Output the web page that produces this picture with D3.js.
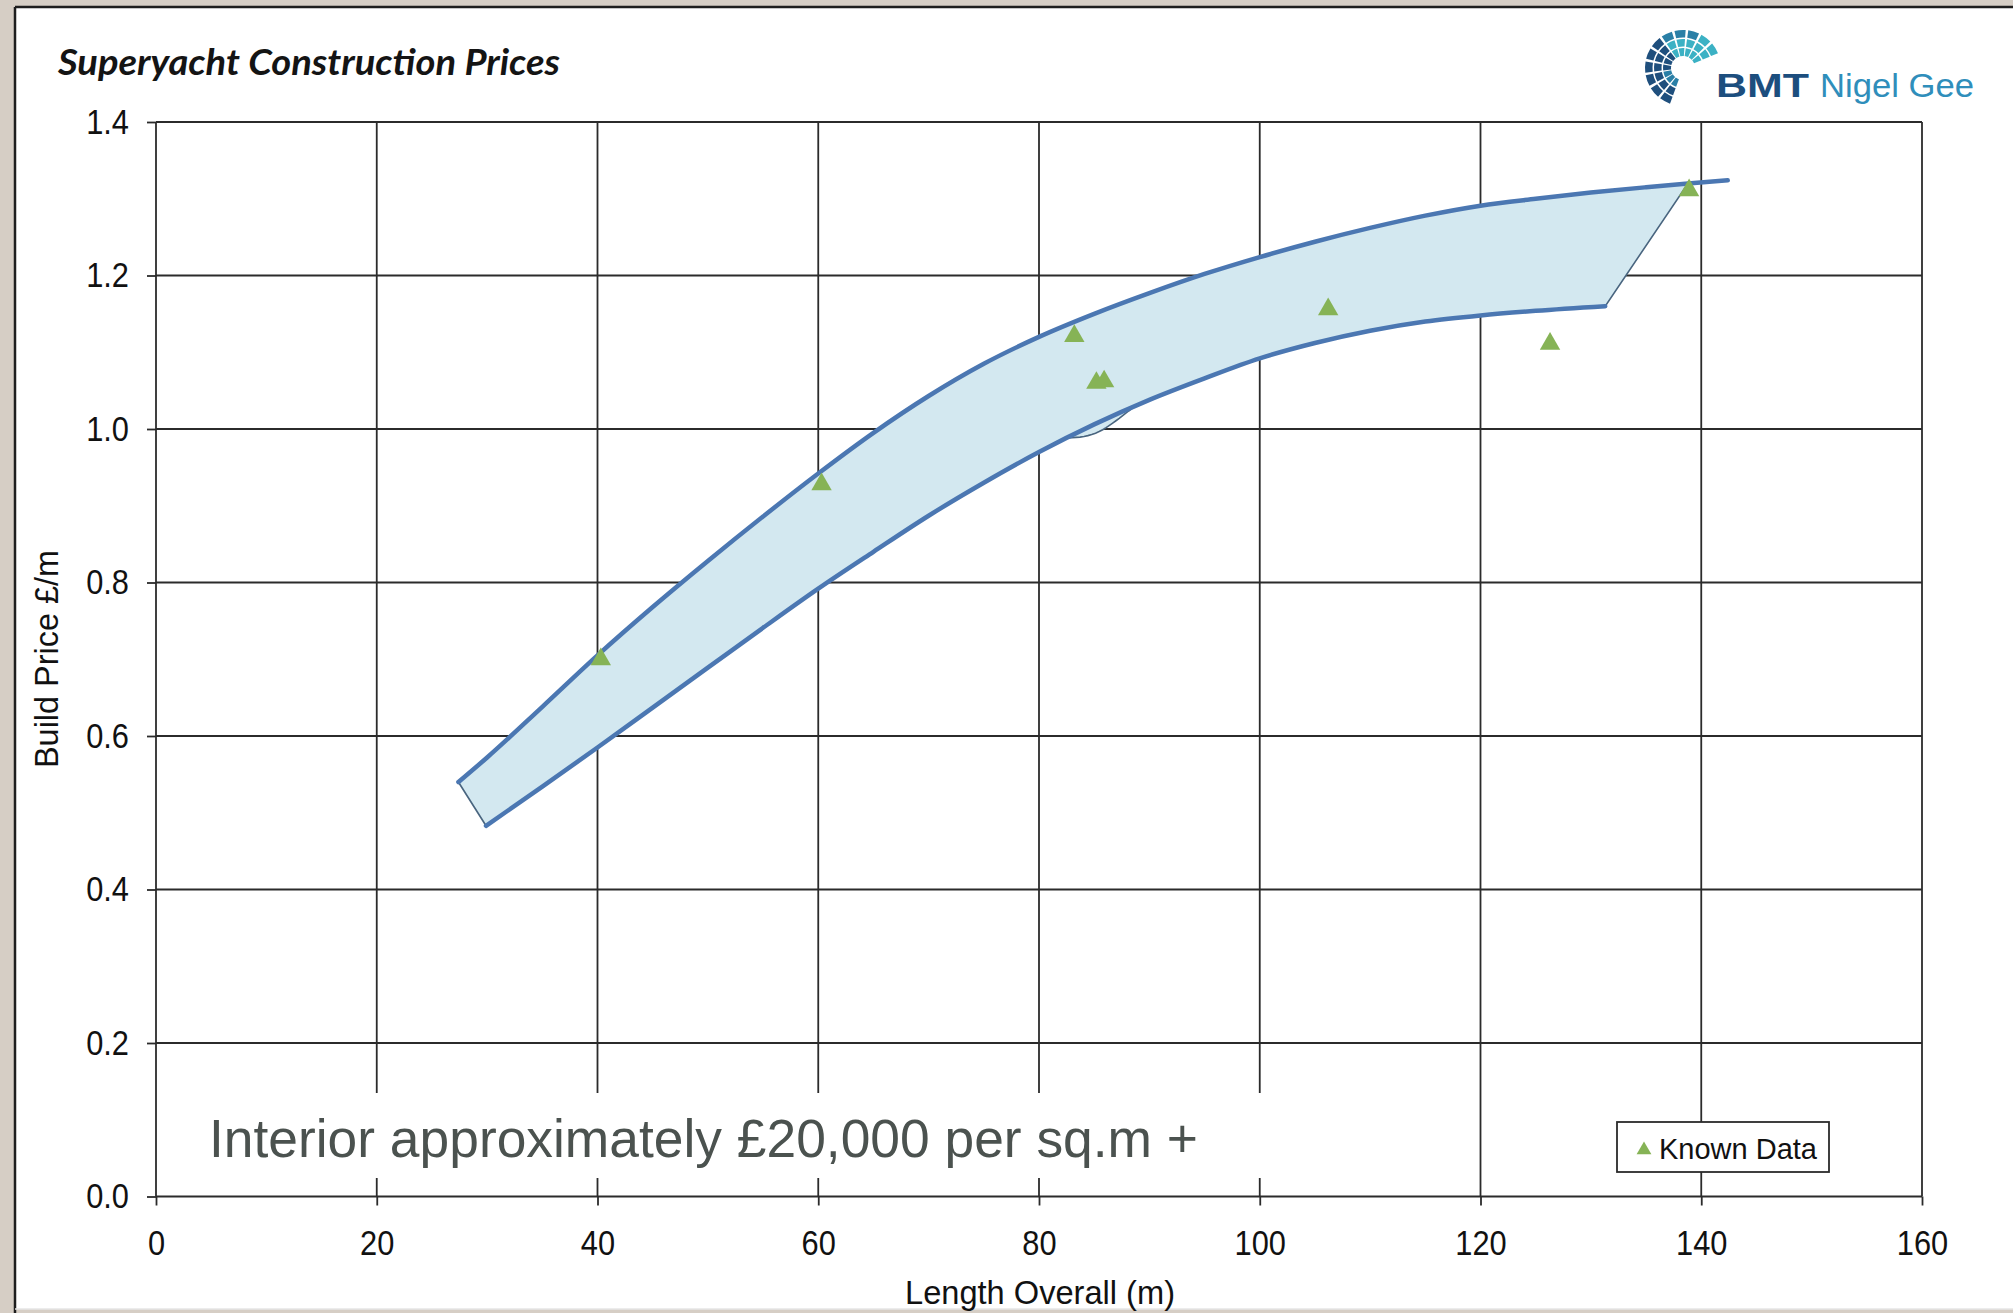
<!DOCTYPE html>
<html>
<head>
<meta charset="utf-8">
<script src="https://cdn.jsdelivr.net/npm/d3@7"></script>
<style>
  html, body { margin: 0; padding: 0; background: #d6cec5; }
  svg { display: block; }
</style>
</head>
<body>
<svg id="chart" width="2013" height="1313"></svg>
<script>
// Upper bound of the price band (length in m, price in £/m)
const upperLength = [27.4, 30, 35, 40, 45, 50, 55, 60, 65, 70, 75, 80, 85, 90, 95, 100, 105, 110, 115, 120, 125, 130, 135, 138.8, 142.4];
const upperPrice  = [0.540, 0.572, 0.638, 0.705, 0.768, 0.828, 0.886, 0.942, 0.995, 1.043, 1.085, 1.120, 1.150, 1.177, 1.202, 1.224, 1.244, 1.262, 1.278, 1.291, 1.300, 1.308, 1.315, 1.320, 1.324];

// Lower bound of the price band
const lowerLength = [29.9, 35, 40, 45, 50, 55, 60, 65, 70, 75, 80, 85, 90, 95, 100, 105, 110, 115, 120, 125, 131.3];
const lowerPrice  = [0.483, 0.534, 0.585, 0.637, 0.689, 0.741, 0.792, 0.840, 0.887, 0.930, 0.970, 1.006, 1.038, 1.066, 1.092, 1.112, 1.128, 1.140, 1.148, 1.154, 1.160];

// Where the shaded area's outline dips under the lower bound
const dipLength = [82.5, 84, 85.5, 87, 89];
const dipPrice  = [0.988, 0.990, 0.997, 1.011, 1.032];

// Known yachts
const knownLength = [40.3, 60.3, 83.2, 85.2, 85.9, 106.2, 126.3, 138.9];
const knownPrice  = [0.700, 0.928, 1.121, 1.060, 1.062, 1.156, 1.111, 1.311];

// Axis ticks
const xTicks = [0, 20, 40, 60, 80, 100, 120, 140, 160];
const yTicks = [0.0, 0.2, 0.4, 0.6, 0.8, 1.0, 1.2, 1.4];

const svg = d3.select("#chart");
const x = d3.scaleLinear().domain([0, 160]).range([156, 1922]);
const y = d3.scaleLinear().domain([0, 1.4]).range([1196.5, 122]);

const FONT = "'Liberation Sans', Arial, sans-serif";
const gridColor = "#2b2b2b";

// Slide panel
svg.append("rect").attr("x", 15).attr("y", 7).attr("width", 2010).attr("height", 1302).attr("fill", "#ffffff");
svg.append("line").attr("x1", 15).attr("x2", 15).attr("y1", 7).attr("y2", 1313).attr("stroke", "#1e1e1e").attr("stroke-width", 2.5);
svg.append("line").attr("x1", 15).attr("x2", 2013).attr("y1", 7).attr("y2", 7).attr("stroke", "#1e1e1e").attr("stroke-width", 2.5);
svg.append("line").attr("x1", 15).attr("x2", 2013).attr("y1", 1309).attr("y2", 1309).attr("stroke", "#e6e6e6").attr("stroke-width", 1.5);

// Gridlines
const grid = svg.append("g");
grid.selectAll(".vg").data(xTicks).join("line")
  .attr("x1", d => x(d)).attr("x2", d => x(d))
  .attr("y1", y(1.4)).attr("y2", y(0))
  .attr("stroke", gridColor).attr("stroke-width", 1.8);
grid.selectAll(".hg").data(yTicks).join("line")
  .attr("x1", x(0)).attr("x2", x(160))
  .attr("y1", d => y(d)).attr("y2", d => y(d))
  .attr("stroke", gridColor).attr("stroke-width", 1.8);

// Compress tick text slightly horizontally
function squeeze(sel, f) {
  sel.each(function () {
    const w = this.getComputedTextLength();
    this.setAttribute("textLength", w * f);
    this.setAttribute("lengthAdjust", "spacingAndGlyphs");
  });
}

// Axes (ticks and labels)
const yAxis = svg.append("g").attr("transform", `translate(${x(0)},0)`)
  .call(d3.axisLeft(y).tickValues(yTicks).tickFormat(d3.format(".1f")).tickSize(9).tickPadding(18));
const xAxis = svg.append("g").attr("transform", `translate(0,${y(0)})`)
  .call(d3.axisBottom(x).tickValues(xTicks).tickFormat(d3.format("d")).tickSize(9).tickPadding(25));
[yAxis, xAxis].forEach(a => {
  a.select(".domain").remove();
  a.selectAll(".tick line").attr("stroke", gridColor).attr("stroke-width", 1.8);
  a.selectAll(".tick text").attr("font-family", FONT).attr("font-size", 35).attr("fill", "#111");
  squeeze(a.selectAll(".tick text"), 0.88);
});

// Note box
svg.append("rect").attr("x", 195).attr("y", 1093).attr("width", 1100).attr("height", 85).attr("fill", "#ffffff");
svg.append("text").attr("x", 209).attr("y", 1157)
  .attr("font-family", FONT).attr("font-size", 53.5).attr("fill", "#4b524f")
  .attr("textLength", 989).attr("lengthAdjust", "spacingAndGlyphs")
  .text("Interior approximately £20,000 per sq.m +");

// Band
const upperPts = upperLength.map((d, i) => [d, upperPrice[i]]);
const lowerPts = lowerLength.map((d, i) => [d, lowerPrice[i]]);
const dipPts = dipLength.map((d, i) => [d, dipPrice[i]]);

const curve = d3.line().x(d => x(d[0])).y(d => y(d[1])).curve(d3.curveMonotoneX);

// Walk a monotone curve backwards so it can close a shape
function reversePath(pts) {
  const tmp = svg.append("path").attr("d", curve(pts)).attr("visibility", "hidden").node();
  const len = tmp.getTotalLength();
  const out = [];
  for (let s = len; s >= 0; s -= 4) {
    const p = tmp.getPointAtLength(s);
    out.push("L" + p.x.toFixed(2) + "," + p.y.toFixed(2));
  }
  const p0 = tmp.getPointAtLength(0);
  out.push("L" + p0.x.toFixed(2) + "," + p0.y.toFixed(2));
  tmp.remove();
  return out.join(" ");
}

// Shaded area: upper edge up to the last known yacht, across to the lower end, back along the lower edge
const fillUpper = upperPts.filter(p => p[0] <= 138.8);
const fillLower = lowerPts.filter(p => p[0] < dipLength[0] || p[0] > dipLength[dipLength.length - 1])
  .concat(dipPts).sort((a, b) => a[0] - b[0]);
const lastLower = lowerPts[lowerPts.length - 1];

const band = svg.append("g");
band.append("path")
  .attr("d", curve(fillUpper) + " L" + x(lastLower[0]) + "," + y(lastLower[1]) + " " + reversePath(fillLower) + " Z")
  .attr("fill", "#d3e8f0").attr("stroke", "#49657f").attr("stroke-width", 1.6);

// Band edges
band.append("path").attr("d", curve(upperPts)).attr("fill", "none")
  .attr("stroke", "#4b77b2").attr("stroke-width", 4.5).attr("stroke-linecap", "round");
band.append("path").attr("d", curve(lowerPts)).attr("fill", "none")
  .attr("stroke", "#4b77b2").attr("stroke-width", 4.5).attr("stroke-linecap", "round");

// Known data markers
const tri = d3.symbol().type(d3.symbolTriangle).size(180);
svg.append("g").selectAll("path").data(knownLength.map((d, i) => [d, knownPrice[i]])).join("path")
  .attr("d", tri)
  .attr("transform", d => `translate(${x(d[0])},${y(d[1])})`)
  .attr("fill", "#86b356");

// Legend
const lg = svg.append("g");
lg.append("rect").attr("x", 1617).attr("y", 1122).attr("width", 212).attr("height", 50)
  .attr("fill", "#ffffff").attr("stroke", "#2b2b2b").attr("stroke-width", 1.8);
lg.append("path").attr("d", d3.symbol().type(d3.symbolTriangle).size(95))
  .attr("transform", "translate(1644,1150)").attr("fill", "#86b356");
lg.append("text").attr("x", 1659).attr("y", 1159)
  .attr("font-family", FONT).attr("font-size", 29).attr("fill", "#111")
  .attr("textLength", 158).attr("lengthAdjust", "spacingAndGlyphs")
  .text("Known Data");

// Axis titles
svg.append("text").attr("x", 1040).attr("y", 1304).attr("text-anchor", "middle")
  .attr("font-family", FONT).attr("font-size", 33).attr("fill", "#111")
  .attr("textLength", 270).attr("lengthAdjust", "spacingAndGlyphs")
  .text("Length Overall (m)");
svg.append("text").attr("transform", "translate(58,659) rotate(-90)").attr("text-anchor", "middle")
  .attr("font-family", FONT).attr("font-size", 33).attr("fill", "#111")
  .attr("textLength", 218).attr("lengthAdjust", "spacingAndGlyphs")
  .text("Build Price £/m");

// Title
svg.append("text").attr("x", 58).attr("y", 75)
  .attr("font-family", "Lato, 'Open Sans', sans-serif").attr("font-style", "italic").attr("font-weight", 700)
  .attr("font-size", 37).attr("fill", "#141414")
  .attr("textLength", 502).attr("lengthAdjust", "spacingAndGlyphs")
  .text("Superyacht Construction Prices");

// Company mark: a fan of curved segments opening towards the wordmark
const logo = svg.append("g").attr("transform", "translate(1683,68)");
const rings = [[12, 20], [21.5, 29], [30.5, 38]];
const navy = "#1f4f7d", teal = "#3bb1c4", mid = "#2a7fa6";
rings.forEach((r, ri) => {
  d3.range(200, 430, 21).forEach(a => {
    const a0 = a * Math.PI / 180, a1 = (a + 17) * Math.PI / 180;
    let c = navy;
    if (a >= 320) c = ri === 2 ? mid : teal;
    if (a >= 370) c = teal;
    if (a < 245 && ri === 0) c = mid;
    logo.append("path")
      .attr("d", d3.arc()({ innerRadius: r[0], outerRadius: r[1], startAngle: a0, endAngle: a1 }))
      .attr("fill", c);
  });
});
svg.append("text").attr("x", 1716).attr("y", 97)
  .attr("font-family", FONT).attr("font-weight", 700).attr("font-size", 34).attr("fill", "#1c4e7e")
  .attr("textLength", 93).attr("lengthAdjust", "spacingAndGlyphs").text("BMT");
svg.append("text").attr("x", 1820).attr("y", 97)
  .attr("font-family", FONT).attr("font-size", 34).attr("fill", "#2f8ebb")
  .attr("textLength", 154).attr("lengthAdjust", "spacingAndGlyphs").text("Nigel Gee");
</script>
</body>
</html>
